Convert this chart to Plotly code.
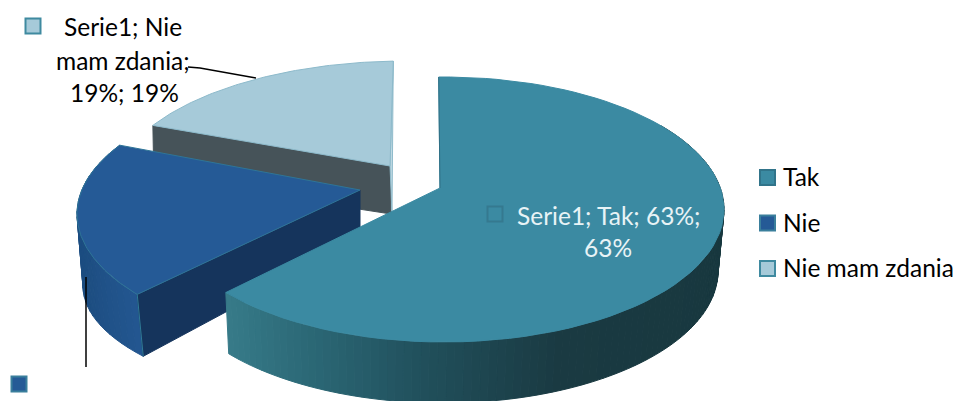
import math
import plotly.graph_objects as go

# ---- data
categories = ["Tak", "Nie", "Nie mam zdania"]
shares = [63, 18, 19]
series_name = "Serie1"
top_colors = ["#3B8AA2", "#255A96", "#A6CAD9"]
marker_lines = ["#31748A", "#3A7F9C", "#3F8AA0"]

# ---- drawing view of each exploded slice (pixel frame 957x401)
W, H = 957, 401
VIEW = {
    "Tak": dict(apex=(440, 188), top=(444, 209.5, 280, 132.5), low=(443, 271, 275, 132), bend=(-0.4, -3.0), tilt=complex(-0.007, -0.081)),
    "Nie": dict(apex=(360, 190), top=(383, 214, 306, 135), low=(389, 286, 306, 118), bend=(-3.2, 0.4), tilt=complex(-0.022, -0.095)),
    "Nie mam zdania": dict(apex=(390, 166), top=(405, 191, 292, 130), low=(405, 240, 286, 125), bend=(0.0, 0.0), tilt=complex(-0.022, -0.095)),
}

# angular spans from the shares
spans = {}
start = 0.0
for name, share in zip(categories, shares):
    sweep = share / sum(shares) * 360
    spans[name] = (start, start + sweep)
    start += sweep


def rim(name, ell_key, theta_deg):
    view = VIEW[name]
    t0, t1 = spans[name]
    b0, b1 = view["bend"]
    th = math.radians(theta_deg + b0 + (b1 - b0) * (theta_deg - t0) / (t1 - t0))
    z = complex(math.sin(th), -math.cos(th))
    w = (z + view["tilt"]) / (1 + view["tilt"].conjugate() * z)
    cx, cy, rx, ry = view[ell_key]
    return cx + w.real * rx, cy + w.imag * ry


def lerp_color(stops, x):
    if x <= stops[0][0]:
        return stops[0][1]
    for (x0, c0), (x1, c1) in zip(stops, stops[1:]):
        if x <= x1:
            f = (x - x0) / (x1 - x0)
            a = [int(c0[i:i + 2], 16) for i in (1, 3, 5)]
            b = [int(c1[i:i + 2], 16) for i in (1, 3, 5)]
            return "#%02x%02x%02x" % tuple(round(p + (q - p) * f) for p, q in zip(a, b))
    return stops[-1][1]


fig = go.Figure()


def poly(xs, ys, color, line=None, lw=1):
    fig.add_trace(go.Scatter(x=xs, y=ys, mode="lines", fill="toself", fillcolor=color,
                             line=dict(color=line or color, width=lw), hoverinfo="skip", showlegend=False))


def stroke(xs, ys, color, width):
    fig.add_trace(go.Scatter(x=xs, y=ys, mode="lines", line=dict(color=color, width=width),
                             hoverinfo="skip", showlegend=False))


def outer_side(name, t0, t1, stops, n=70):
    for i in range(n):
        a = t0 + (t1 - t0) * i / n
        b = t0 + (t1 - t0) * (i + 1) / n
        p0, p1 = rim(name, "top", a), rim(name, "top", b)
        q0, q1 = rim(name, "low", a), rim(name, "low", b)
        color = lerp_color(stops, (p0[0] + p1[0]) / 2)
        poly([p0[0], p1[0], q1[0], q0[0], p0[0]], [p0[1], p1[1], q1[1], q0[1], p0[1]], color)


def top_face(name, color, edge, n=80):
    t0, t1 = spans[name]
    pts = [rim(name, "top", t0 + (t1 - t0) * i / n) for i in range(n + 1)]
    ax, ay = VIEW[name]["apex"]
    poly([ax] + [p[0] for p in pts] + [ax], [ay] + [p[1] for p in pts] + [ay], color, edge, 1)


# back slice: Nie mam zdania
name = "Nie mam zdania"
t0, t1 = spans[name]
ax, ay = VIEW[name]["apex"]
p = rim(name, "top", t0)
poly([p[0], ax, ax + 1, p[0] + 1, p[0]], [p[1], ay, ay + 48, p[1] + 52, p[1]], "#465359")
q = rim(name, "top", t1)
poly([ax, q[0], ax + 2, ax], [ay, q[1], ay + 48, ay], "#BFD9E3", "#8FBBCB", 1)
top_face(name, top_colors[2], "#8DBACB")

# middle slice: Nie
name = "Nie"
t0, t1 = spans[name]
ax, ay = VIEW[name]["apex"]
outer_side(name, t0, t1, [(77, "#1C4D80"), (140, "#245792")], n=30)
p = rim(name, "top", t0)
q = rim(name, "low", t0)
poly([p[0], ax, ax, q[0], p[0]], [p[1], ay, ay + 50, q[1], p[1]], "#15345C")
stroke([p[0], q[0]], [p[1], q[1]], "#2F7B97", 1)
top_face(name, top_colors[1], "#2F7597")

# front slice: Tak
name = "Tak"
t0, t1 = spans[name]
ax, ay = VIEW[name]["apex"]
outer_side(name, 60, t1, [(225, "#377B89"), (300, "#2C6A78"), (420, "#21505C"), (560, "#1A3A42"), (725, "#18383F")], n=110)
top_face(name, top_colors[0], "#3B8AA2")
q = rim(name, "top", t0)
stroke([q[0], ax], [q[1], ay], "#2F6F85", 1)

# leader lines of the labels
stroke([188, 200, 256], [67, 68, 78], "#000000", 1.5)
stroke([86, 86], [277, 367], "#000000", 1.5)

# legend keys and label keys
key_x = [767.5, 767.5, 767.5, 33, 19, 495]
key_y = [177.5, 223, 268.5, 26, 384, 214]
key_fill = [top_colors[0], top_colors[1], top_colors[2], top_colors[2], top_colors[1], top_colors[0]]
key_line = marker_lines + [marker_lines[2], marker_lines[1], "#35798F"]
fig.add_trace(go.Scatter(x=key_x, y=key_y, mode="markers",
                         marker=dict(symbol="square", size=15, color=key_fill, line=dict(color=key_line, width=2)),
                         hoverinfo="skip", showlegend=False))

FONT = "Lato"
SIZE = 24.5
for name, y in zip(categories, [176, 222, 267]):
    fig.add_annotation(x=781, y=y, text=name, showarrow=False, xanchor="left", yanchor="middle",
                       font=dict(family=FONT, size=SIZE, color="#000000"))

label_lines = [
    (f"{series_name}; Nie", 123, 26, "#000000"),
    ("mam zdania;", 123, 60, "#000000"),
    (f"{shares[2]}%; {shares[2]}%", 124, 92, "#000000"),
    (f"{series_name}; {categories[0]}; {shares[0]}%;", 608, 215, "#E8F3F6"),
    (f"{shares[0]}%", 608, 247, "#E8F3F6"),
]
for text, x, y, color in label_lines:
    fig.add_annotation(x=x, y=y, text=text, showarrow=False, xanchor="center", yanchor="middle",
                       font=dict(family=FONT, size=SIZE, color=color))

fig.update_layout(width=W, height=H, margin=dict(l=0, r=0, t=0, b=0), paper_bgcolor="white", plot_bgcolor="white",
                  xaxis=dict(range=[0, W], visible=False, fixedrange=True),
                  yaxis=dict(range=[H, 0], visible=False, fixedrange=True),
                  showlegend=False)
fig.write_html("out.html", config={"displayModeBar": False},
               post_script="document.body.style.margin='0';document.documentElement.style.overflow='hidden';")
